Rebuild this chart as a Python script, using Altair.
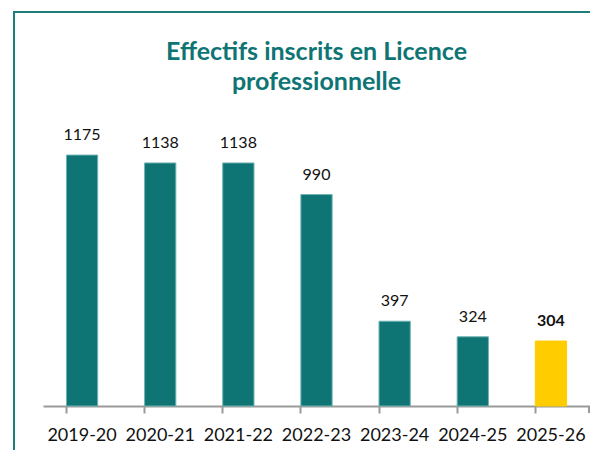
import altair as alt
import pandas as pd

years = ["2019-20", "2020-21", "2021-22", "2022-23", "2023-24", "2024-25", "2025-26"]
values = [1175, 1138, 1138, 990, 397, 324, 304]
highlight = ["non", "non", "non", "non", "non", "non", "oui"]
title_lines = ["Effectifs inscrits en Licence", "professionnelle"]

df = pd.DataFrame({"annee": years, "effectif": values, "hl": highlight})

W, H = 547, 299
FONT = "Lato"

x = alt.X("annee:N", sort=years, title=None,
          scale=alt.Scale(paddingInner=0.6, paddingOuter=0.3),
          axis=alt.Axis(labelAngle=0, labelFontSize=18, labelColor="#111111",
                        labelFont=FONT, labelPadding=13,
                        domainColor="#9a9a9a", domainWidth=2,
                        tickColor="#9a9a9a", tickWidth=2, tickSize=7,
                        bandPosition=0))
y = alt.Y("effectif:Q", scale=alt.Scale(domain=[0, 1400]), axis=None)

base = alt.Chart(df)

bars = base.mark_bar(strokeWidth=1).encode(
    x=x, y=y,
    color=alt.Color("hl:N", scale=alt.Scale(domain=["non", "oui"], range=["#0e7474", "#ffcc00"]), legend=None),
    stroke=alt.Stroke("hl:N", scale=alt.Scale(domain=["non", "oui"], range=["#6fb3b1", "#ffcc00"]), legend=None),
)

labels = base.transform_filter(alt.datum.hl == "non").mark_text(
    baseline="bottom", dy=-12, fontSize=16, font=FONT, color="#111111"
).encode(x=x, y=y, text=alt.Text("effectif:Q"))

labels_hl = base.transform_filter(alt.datum.hl == "oui").mark_text(
    baseline="bottom", dy=-12, fontSize=16, font=FONT, fontWeight="bold", color="#111111"
).encode(x=x, y=y, text=alt.Text("effectif:Q"))

one = pd.DataFrame({"k": [0]})

end_tick = alt.Chart(one).mark_rule(color="#9a9a9a", strokeWidth=2).encode(
    x=alt.value(W - 1), y=alt.value(H), y2=alt.value(H + 7))

frame_left = alt.Chart(one).mark_rule(color="#1d7e7a", strokeWidth=2).encode(
    x=alt.value(-29), y=alt.value(-96), y2=alt.value(360))
frame_top = alt.Chart(one).mark_rule(color="#1d7e7a", strokeWidth=2).encode(
    x=alt.value(-30), x2=alt.value(560), y=alt.value(-95))

title = alt.Chart(one).mark_text(
    font=FONT, fontSize=25, fontWeight="bold", color="#0e7474",
    align="center", baseline="middle", lineHeight=30
).encode(x=alt.value(W / 2), y=alt.value(-55), text=alt.value(title_lines))

chart = alt.layer(frame_left, frame_top, title, bars, labels, labels_hl, end_tick).properties(
    width=W, height=H,
    padding={"left": 35, "top": 99, "right": 0, "bottom": 44},
    autosize=alt.AutoSizeParams(type="none"),
).configure_view(stroke=None)

chart.save("out.html", embed_options={"renderer": "svg", "actions": False})
